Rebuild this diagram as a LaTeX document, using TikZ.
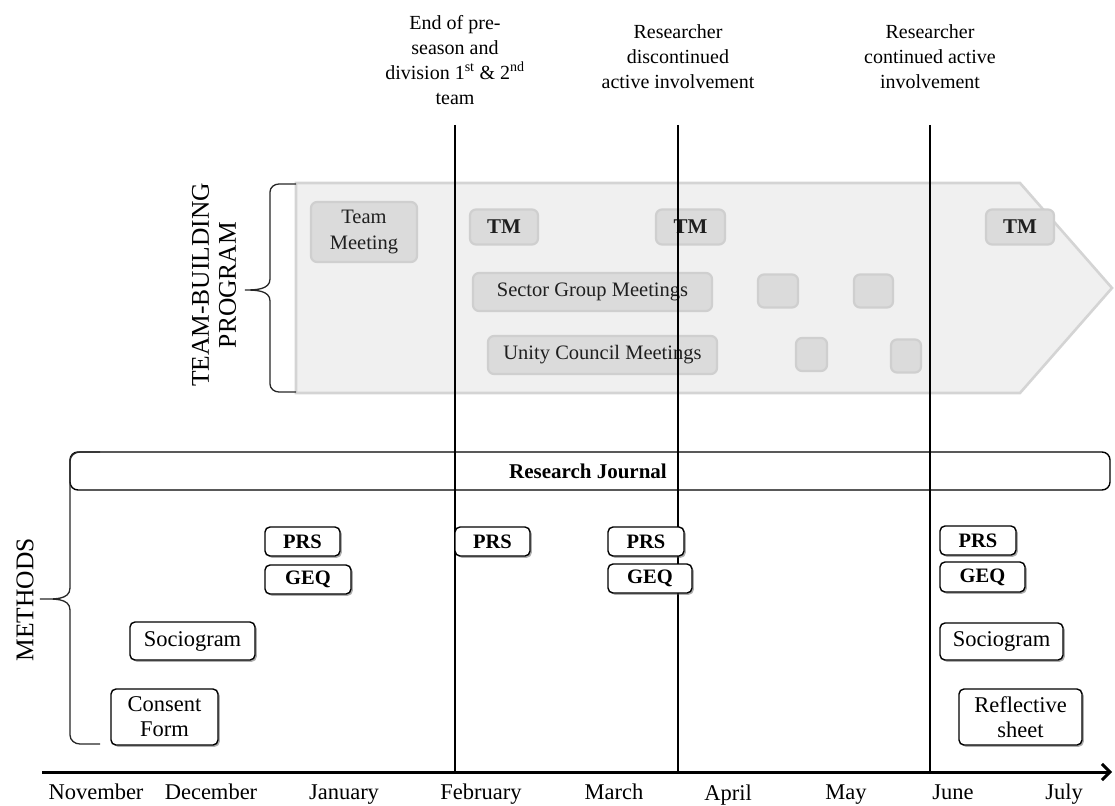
\documentclass[tikz,border=0pt]{standalone}
\usepackage{fontspec}
\setmainfont{Liberation Serif}
\usetikzlibrary{shadows,arrows.meta}

\tikzset{
  toplbl/.style={font=\fontsize{20}{25}\selectfont, align=center, inner sep=0pt, anchor=north},
  month/.style={font=\fontsize{22.5}{26}\selectfont, anchor=base, inner sep=0pt},
  sidelbl/.style={font=\fontsize{25.5}{27}\selectfont, align=center, inner sep=0pt, rotate=90},
  mbox/.style={draw=black, line width=1.4pt, fill=white, rounded corners=5pt, inner sep=0pt,
    font=\fontsize{22.5}{25}\selectfont, align=center,
    drop shadow={shadow xshift=1.8pt, shadow yshift=-1.8pt, opacity=0.45, fill=black!70}},
  mboxb/.style={mbox, font=\fontsize{20.5}{24}\selectfont\bfseries},
  gbox/.style={draw=gray!38, line width=2.2pt, fill=gray!28, rounded corners=6pt, inner sep=0pt,
    text=black!88, font=\fontsize{20.5}{25}\selectfont, align=center},
  gboxb/.style={gbox, font=\fontsize{21}{24}\selectfont\bfseries},
  vline/.style={line width=1.2pt, black},
  bracestyle/.style={line width=1.3pt, black!85},
  tbarrow/.style={draw=gray!34, line width=2.6pt, fill=gray!12, line join=miter},
  journal/.style={draw=black, line width=1.4pt, rounded corners=8pt, inner sep=0pt,
    font=\fontsize{21}{24}\selectfont\bfseries},
  axis/.style={line width=3pt, -{Straight Barb[length=8pt,width=16pt,line width=3pt]}},
}

\begin{document}
\begin{tikzpicture}[x=1pt,y=-1pt]
\useasboundingbox (0,0) rectangle (1115,805);

% ---------------- team-building arrow ----------------
\draw[tbarrow] (296,183) -- (1020,183) -- (1112,288) -- (1020,393) -- (296,393) -- cycle;

\node[gbox, minimum width=106pt, minimum height=60pt] (teammeet) at (364,232) {Team\\Meeting};
\node[gboxb, minimum width=68pt, minimum height=35pt] (tm1) at (504,227) {TM};
\node[gboxb, minimum width=69pt, minimum height=35pt] (tm2) at (690.5,227) {TM};
\node[gboxb, minimum width=68pt, minimum height=35pt] (tm3) at (1020,227) {TM};
\node[gbox, minimum width=239pt, minimum height=38pt] (sector) at (592.5,292) {Sector Group Meetings};
\node[gbox, minimum width=40pt, minimum height=33pt] (sg2) at (778,291) {};
\node[gbox, minimum width=39pt, minimum height=33pt] (sg3) at (873.5,291) {};
\node[gbox, minimum width=229pt, minimum height=38pt] (unity) at (602.5,355) {Unity Council Meetings};
\node[gbox, minimum width=31pt, minimum height=33pt] (uc2) at (811.5,354.5) {};
\node[gbox, minimum width=30pt, minimum height=33pt] (uc3) at (906,356) {};

% ---------------- top labels ----------------
\node[toplbl] (lblA) at (455,15) {End of pre-\\season and\\division 1\textsuperscript{st} \& 2\textsuperscript{nd}\\team};
\node[toplbl] (lblB) at (678,24) {Researcher\\discontinued\\active involvement};
\node[toplbl] (lblC) at (930,24) {Researcher\\continued active\\involvement};

% ---------------- vertical lines ----------------
\coordinate (vAtop) at (455,125);  \coordinate (vAbot) at (455,771);
\coordinate (vBtop) at (678,125);  \coordinate (vBbot) at (678,771);
\coordinate (vCtop) at (930,125);  \coordinate (vCbot) at (930,771);
\draw[vline] (vAtop) -- (vAbot);
\draw[vline] (vBtop) -- (vBbot);
\draw[vline] (vCtop) -- (vCbot);

% ---------------- research journal ----------------
\node[journal, minimum width=1040pt, minimum height=38pt] (journalbox) at (590,471) {};
\node[font=\fontsize{21}{24}\selectfont\bfseries, inner sep=0pt] (journaltxt) at (588,471) {Research Journal};

% ---------------- method boxes ----------------
\node[mboxb, minimum width=75pt, minimum height=29pt] (prs1) at (302.5,541.5) {PRS};
\node[mboxb, minimum width=86pt, minimum height=29pt] (geq1) at (308,579.5) {GEQ};
\node[mbox, minimum width=125pt, minimum height=38pt] (soc1) at (192.5,641) {Sociogram};
\node[mbox, minimum width=107pt, minimum height=56pt] (consent) at (164.5,717) {Consent\\Form};
\node[mboxb, minimum width=75pt, minimum height=29pt] (prs2) at (492.5,541.5) {PRS};
\node[mboxb, minimum width=76pt, minimum height=29pt] (prs3) at (646,541.5) {PRS};
\node[mboxb, minimum width=84pt, minimum height=29pt] (geq3) at (650,578.5) {GEQ};
\node[mboxb, minimum width=76pt, minimum height=29pt] (prs4) at (978,540.5) {PRS};
\node[mboxb, minimum width=85pt, minimum height=30pt] (geq4) at (982.5,577) {GEQ};
\node[mbox, minimum width=123pt, minimum height=37pt] (soc4) at (1001.5,641.5) {Sociogram};
\node[mbox, minimum width=123pt, minimum height=56pt] (reflect) at (1020.5,717) {Reflective\\sheet};

% ---------------- axis ----------------
\coordinate (axL) at (42,772);
\coordinate (axR) at (1112,772);
\draw[axis] (axL) -- (axR);

\node[month] (mNov) at (96,799) {November};
\node[month] (mDec) at (211,799) {December};
\node[month] (mJan) at (344,799) {January};
\node[month] (mFeb) at (481,799) {February};
\node[month] (mMar) at (614,799) {March};
\node[month] (mApr) at (728,800.5) {April};
\node[month] (mMay) at (846,799) {May};
\node[month] (mJun) at (953,799) {June};
\node[month] (mJul) at (1064,799) {July};

% ---------------- braces ----------------
\coordinate (tbA) at (296,184);
\coordinate (tbB) at (296,392);
\coordinate (tbTip) at (245,290);
\draw[bracestyle] (tbA) -- (279,184) to[out=180,in=90] (270,192) -- (270,279)
  to[out=-90,in=0] (tbTip) to[out=0,in=90] (270,301) -- (270,384)
  to[out=-90,in=180] (279,392) -- (tbB);

\coordinate (mA) at (100,452);
\coordinate (mB) at (100,744);
\coordinate (mTip) at (40,599);
\draw[bracestyle] (mA) -- (80,452) to[out=180,in=90] (70,461) -- (70,588)
  to[out=-90,in=0] (mTip) to[out=0,in=90] (70,610) -- (70,735)
  to[out=-90,in=180] (80,744) -- (mB);

\node[sidelbl] (tblabel) at (214,285) {TEAM-BUILDING\\PROGRAM};
\node[sidelbl] (methlabel) at (25,600) {METHODS};

\end{tikzpicture}
\end{document}
